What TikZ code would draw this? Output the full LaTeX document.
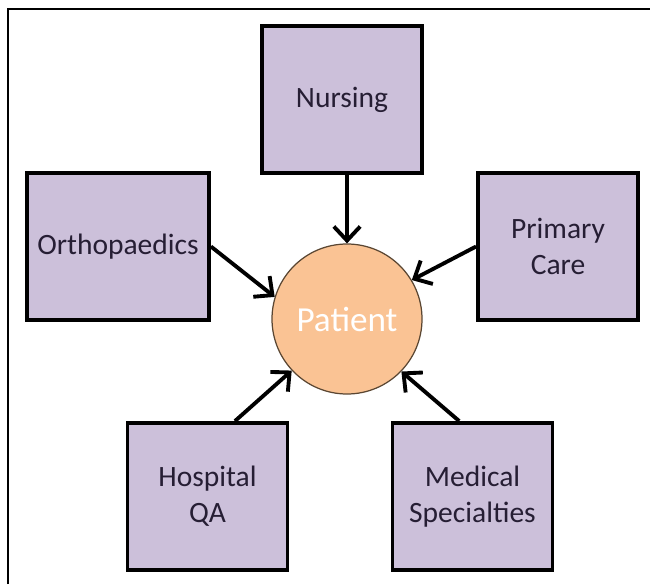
\documentclass[tikz,border=0pt]{standalone}
\usepackage{fontspec}
\setmainfont{Carlito}
\usetikzlibrary{arrows.meta}
\definecolor{boxfill}{RGB}{204,192,218}
\definecolor{patientfill}{RGB}{250,195,148}
\definecolor{labeltext}{RGB}{38,30,52}
\tikzset{
  dept/.style={draw=black, line width=2.2pt, fill=boxfill, text=labeltext,
    minimum width=3.2cm, minimum height=2.94cm, align=center, font=\fontsize{16.8}{20.5}\selectfont},
  feed/.style={line width=2.2pt, arrows={-Straight Barb[length=8pt,width=15pt,line width=2.2pt]}}
}
\begin{document}
\begin{tikzpicture}
\useasboundingbox (0,0) rectangle (13,11.68);
\draw[line width=1.1pt] (0.16,0) -- (0.16,11.5) -- (13,11.5);

\node[circle, draw={rgb,255:red,90;green,70;blue,50}, line width=0.7pt, fill=patientfill,
  minimum size=3cm, text=white, font=\fontsize{20}{24}\selectfont] (patient) at (6.94,5.30) {Patient};

\node[dept] (nursing) at (6.84,9.69) {Nursing};
\node[dept, minimum width=3.64cm] (ortho) at (2.36,6.75) {Orthopaedics};
\node[dept] (primary) at (11.16,6.75) {Primary\\Care};
\node[dept] (hospital) at (4.15,1.75) {Hospital\\QA};
\node[dept] (medical) at (9.45,1.75) {Medical\\Specialties};

\draw[feed] (patient.north |- nursing.south) -- (patient.north);
\draw[feed] (ortho.east) -- (patient.163);
\draw[feed] (primary.west) -- (patient.31);
\draw[feed] (hospital.70) -- (patient.223);
\draw[feed] (medical.100) -- (patient.-44);
\end{tikzpicture}
\end{document}
